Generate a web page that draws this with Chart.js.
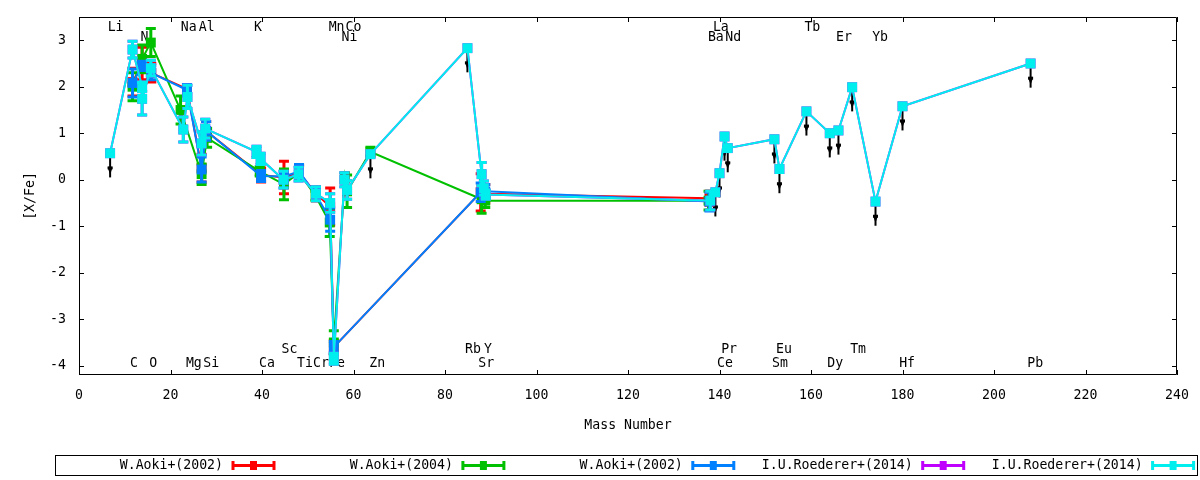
<!DOCTYPE html>
<html>
<head>
<meta charset="utf-8">
<title>[X/Fe] vs Mass Number</title>
<script src="https://cdn.jsdelivr.net/npm/chart.js@4.4.1/dist/chart.umd.min.js"></script>
<style>
  html, body { margin: 0; padding: 0; background: #fff; }
  #chart { display: block; }
</style>
</head>
<body>
<canvas id="chart" width="1200" height="480"></canvas>
<script>
const xTicks = [0, 20, 40, 60, 80, 100, 120, 140, 160, 180, 200, 220, 240];
const yTicks = [-4, -3, -2, -1, 0, 1, 2, 3];

// W.Aoki+(2002), first set (red)
const aoki02aMass = [11.7, 13.8, 15.8, 23.6, 26.8, 27.8, 39.8, 44.8, 48.1, 51.8, 54.9, 55.7, 87.8, 88.8, 137.8];
const aoki02aVal  = [2.1, 2.5, 2.3, 1.95, 0.25, 1.05, 0.1, 0.05, 0.15, -0.3, -0.58, -3.6, -0.27, -0.3, -0.4];
const aoki02aErr  = [0.3, 0.35, 0.2, 0.1, 0.3, 0.2, 0.15, 0.35, 0.15, 0.15, 0.4, 0.15, 0.4, 0.2, 0.15];

// W.Aoki+(2004) (green)
const aoki04Mass = [11.7, 13.8, 15.7, 22.2, 26.8, 28.0, 39.5, 44.8, 48.1, 51.7, 54.8, 55.7, 58.1, 58.6, 63.7, 88.0, 88.8, 137.6];
const aoki04Val  = [2.0, 2.6, 2.95, 1.5, 0.12, 0.9, 0.18, -0.1, 0.15, -0.35, -0.92, -3.5, 0.05, -0.25, 0.6, -0.42, -0.45, -0.45];
const aoki04Err  = [0.3, 0.3, 0.3, 0.3, 0.22, 0.2, 0.1, 0.33, 0.15, 0.1, 0.3, 0.25, 0.1, 0.35, 0.1, 0.3, 0.15, 0.2];

// W.Aoki+(2002), second set (blue)
const aoki02bMass = [11.7, 13.8, 15.8, 23.6, 26.8, 27.8, 39.8, 44.8, 48.1, 51.8, 54.9, 55.7, 87.8, 88.8, 137.8];
const aoki02bVal  = [2.08, 2.45, 2.3, 1.93, 0.22, 1.05, 0.08, 0.07, 0.18, -0.32, -0.86, -3.6, -0.27, -0.25, -0.47];
const aoki02bErr  = [0.3, 0.1, 0.15, 0.12, 0.27, 0.2, 0.12, 0.1, 0.15, 0.12, 0.25, 0.12, 0.2, 0.15, 0.2];

// I.U.Roederer+(2014); limit = 1 marks an upper limit (black arrow)
const roedererMass  = [6.8, 11.7, 13.8, 13.8, 15.7, 22.8, 23.7, 26.8, 27.6, 38.8, 39.7, 44.7, 48.0, 51.8, 54.9, 55.7, 58.0, 58.6, 63.7,
                       84.9, 88.0, 88.5, 88.9, 138.0, 139.1, 140.0, 141.1, 141.8, 152.0, 153.1, 159.0, 164.1, 166.0, 169.0, 174.1, 180.0, 208.0];
const roedererVal   = [0.57, 2.8, 2.0, 1.74, 2.4, 1.08, 1.78, 0.78, 1.1, 0.6, 0.45, 0.0, 0.12, -0.3, -0.5, -3.85, 0.0, -0.22, 0.55,
                       2.83, 0.12, -0.18, -0.32, -0.45, -0.27, 0.14, 0.93, 0.68, 0.87, 0.23, 1.47, 1.0, 1.06, 1.99, -0.47, 1.58, 2.5];
const roedererErr   = [0, 0.18, 0.1, 0.35, 0.17, 0.27, 0.25, 0.25, 0.2, 0.12, 0.12, 0.18, 0.15, 0.15, 0.2, 0.12, 0.15, 0.2, 0,
                       0, 0.25, 0.15, 0.1, 0.2, 0, 0, 0, 0, 0, 0, 0, 0, 0, 0, 0, 0, 0];
const roedererLimit = [1, 0, 0, 0, 0, 0, 0, 0, 0, 0, 0, 0, 0, 0, 0, 0, 0, 0, 1,
                       1, 0, 0, 0, 0, 1, 1, 1, 1, 1, 1, 1, 1, 1, 1, 1, 1, 1];

// element name annotations, in data coordinates
const elementNames = ['Li', 'Na', 'Al', 'K', 'Mn', 'Co', 'La', 'Tb',
                      'N', 'Ni', 'Ba', 'Nd', 'Er', 'Yb',
                      'Sc', 'Rb', 'Y', 'Pr', 'Eu', 'Tm',
                      'C', 'O', 'Mg', 'Si', 'Ca', 'Ti', 'Cr', 'Fe', 'Zn', 'Sr', 'Ce', 'Sm', 'Dy', 'Hf', 'Pb'];
const elementX = [8.0, 24.0, 27.9, 39.1, 56.3, 60.0, 140.3, 160.3,
                  14.3, 59.1, 139.2, 143.0, 167.2, 175.1,
                  46.0, 86.1, 89.4, 142.1, 154.1, 170.3,
                  12.0, 16.2, 25.1, 28.9, 41.1, 49.4, 52.9, 56.4, 65.2, 89.0, 141.2, 153.2, 165.3, 181.0, 209.0];
const elementY = [3.27, 3.27, 3.27, 3.27, 3.27, 3.27, 3.27, 3.27,
                  3.05, 3.05, 3.05, 3.05, 3.05, 3.05,
                  -3.65, -3.65, -3.65, -3.65, -3.65, -3.65,
                  -3.96, -3.96, -3.96, -3.96, -3.96, -3.96, -3.96, -3.96, -3.96, -3.96, -3.96, -3.96, -3.96, -3.96, -3.96];

const FONT = '"DejaVu Sans Mono", "Liberation Mono", monospace';
const font = { family: FONT, size: 13.2 };

function series (label, color, mass, val, err, order) {
  return {
    label,
    data: mass.map((m, i) => ({ x: m, y: val[i] })),
    errors: err,
    borderColor: color,
    backgroundColor: color,
    pointBackgroundColor: color,
    borderWidth: 2,
    pointStyle: 'rect',
    pointRadius: 7,
    pointHoverRadius: 7,
    pointBorderWidth: 0,
    tension: 0,
    order
  };
}

const errorBars = {
  id: 'errorBars',
  beforeDatasetDraw (chart, args) {
    const ds = chart.data.datasets[args.index];
    if (!ds.errors) {
      return;
    }
    const { x, y } = chart.scales;
    const ctx = chart.ctx;
    ctx.save();
    ctx.strokeStyle = ds.borderColor;
    ctx.lineWidth = 3;
    ds.data.forEach((p, i) => {
      const e = ds.errors[i];
      if (!e) {
        return;
      }
      const px = x.getPixelForValue(p.x);
      const top = y.getPixelForValue(p.y + e);
      const bot = y.getPixelForValue(p.y - e);
      ctx.beginPath();
      ctx.moveTo(px, top);
      ctx.lineTo(px, bot);
      ctx.moveTo(px - 5, top);
      ctx.lineTo(px + 5, top);
      ctx.moveTo(px - 5, bot);
      ctx.lineTo(px + 5, bot);
      ctx.stroke();
    });
    ctx.restore();
  }
};

const backdrop = {
  id: 'backdrop',
  beforeDatasetsDraw (chart) {
    const { ctx, chartArea: a } = chart;
    const { x, y } = chart.scales;
    ctx.save();

    // element names (drawn under the data)
    ctx.fillStyle = '#000';
    ctx.font = '13.2px ' + FONT;
    ctx.textAlign = 'center';
    ctx.textBaseline = 'middle';
    elementNames.forEach((name, i) => {
      ctx.fillText(name, x.getPixelForValue(elementX[i]), y.getPixelForValue(elementY[i]));
    });

    // frame with inward ticks on all four sides
    ctx.strokeStyle = '#000';
    ctx.lineWidth = 1;
    ctx.beginPath();
    ctx.rect(Math.round(a.left) + 0.5, Math.round(a.top) + 0.5, Math.round(a.width) - 1, Math.round(a.height) - 1);
    x.ticks.forEach(t => {
      const px = Math.round(x.getPixelForValue(t.value)) + 0.5;
      ctx.moveTo(px, a.bottom);
      ctx.lineTo(px, a.bottom - 5);
      ctx.moveTo(px, a.top);
      ctx.lineTo(px, a.top + 5);
    });
    y.ticks.forEach(t => {
      const py = Math.round(y.getPixelForValue(t.value)) + 0.5;
      ctx.moveTo(a.left, py);
      ctx.lineTo(a.left + 5, py);
      ctx.moveTo(a.right, py);
      ctx.lineTo(a.right - 5, py);
    });
    ctx.stroke();

    // upper limits: black arrows pointing down
    ctx.strokeStyle = '#000';
    ctx.fillStyle = '#000';
    ctx.lineWidth = 2;
    roedererMass.forEach((m, i) => {
      if (!roedererLimit[i]) {
        return;
      }
      const px = x.getPixelForValue(m);
      const py = y.getPixelForValue(roedererVal[i]);
      const tip = y.getPixelForValue(roedererVal[i] - 0.52);
      ctx.beginPath();
      ctx.moveTo(px, py);
      ctx.lineTo(px, tip);
      ctx.stroke();
      ctx.beginPath();
      ctx.moveTo(px - 2.5, tip - 10);
      ctx.lineTo(px + 2.5, tip - 10);
      ctx.lineTo(px, tip - 3);
      ctx.closePath();
      ctx.fill();
      ctx.fillRect(px - 2.5, tip - 11, 5, 3);
    });
    ctx.restore();
  }
};

const keyBox = {
  id: 'keyBox',
  afterDraw (chart) {
    const ctx = chart.ctx;
    ctx.save();
    ctx.strokeStyle = '#000';
    ctx.lineWidth = 1;
    ctx.strokeRect(55.5, 455.5, 1142, 20);
    ctx.font = '13.2px ' + FONT;
    ctx.textAlign = 'right';
    ctx.textBaseline = 'middle';
    const cy = 465.5;
    chart.data.datasets.forEach((ds, i) => {
      const textEnd = 223 + 229.9 * i;
      ctx.fillStyle = '#000';
      ctx.fillText(ds.label, textEnd, cy);
      const x0 = textEnd + 10;
      const x1 = textEnd + 51;
      ctx.strokeStyle = ds.borderColor;
      ctx.fillStyle = ds.borderColor;
      ctx.lineWidth = 3;
      ctx.beginPath();
      ctx.moveTo(x0, cy);
      ctx.lineTo(x1, cy);
      ctx.moveTo(x0, cy - 4.5);
      ctx.lineTo(x0, cy + 4.5);
      ctx.moveTo(x1, cy - 4.5);
      ctx.lineTo(x1, cy + 4.5);
      ctx.stroke();
      ctx.fillRect((x0 + x1) / 2 - 3.5, cy - 4.5, 7, 9);
    });
    ctx.restore();
  }
};

new Chart(document.getElementById('chart'), {
  type: 'line',
  data: {
    datasets: [
      series('W.Aoki+(2002)', '#ff0000', aoki02aMass, aoki02aVal, aoki02aErr, 5),
      series('W.Aoki+(2004)', '#00c000', aoki04Mass, aoki04Val, aoki04Err, 4),
      series('W.Aoki+(2002)', '#0080ff', aoki02bMass, aoki02bVal, aoki02bErr, 3),
      series('I.U.Roederer+(2014)', '#c000ff', roedererMass, roedererVal, roedererErr, 2),
      series('I.U.Roederer+(2014)', '#00eeee', roedererMass, roedererVal, roedererErr, 1)
    ]
  },
  options: {
    responsive: false,
    animation: false,
    devicePixelRatio: 1,
    layout: { padding: { top: 17, right: 23, bottom: 47, left: 0 } },
    plugins: {
      legend: { display: false },
      tooltip: { enabled: false }
    },
    scales: {
      x: {
        type: 'linear',
        min: 0,
        max: 240,
        afterBuildTicks: scale => { scale.ticks = xTicks.map(v => ({ value: v })); },
        afterFit: scale => {
          scale.height = 58;
          scale.paddingLeft = 0;
          scale.paddingRight = 0;
        },
        grid: { display: false, drawTicks: false },
        border: { display: false },
        ticks: { padding: 13, color: '#000', font, maxRotation: 0, autoSkip: false },
        title: { display: true, text: 'Mass Number', color: '#000', font, padding: 0 }
      },
      y: {
        type: 'linear',
        min: -4.2,
        max: 3.5,
        afterBuildTicks: scale => { scale.ticks = yTicks.map(v => ({ value: v })); },
        afterFit: scale => {
          scale.width = 79;
          scale.paddingTop = 0;
          scale.paddingBottom = 0;
        },
        grid: { display: false, drawTicks: false },
        border: { display: false },
        ticks: { padding: 13, color: '#000', font, autoSkip: false },
        title: { display: true, text: '[X/Fe]', color: '#000', font, padding: { top: 22.6, bottom: 0 } }
      }
    }
  },
  plugins: [errorBars, backdrop, keyBox]
});
</script>
</body>
</html>
